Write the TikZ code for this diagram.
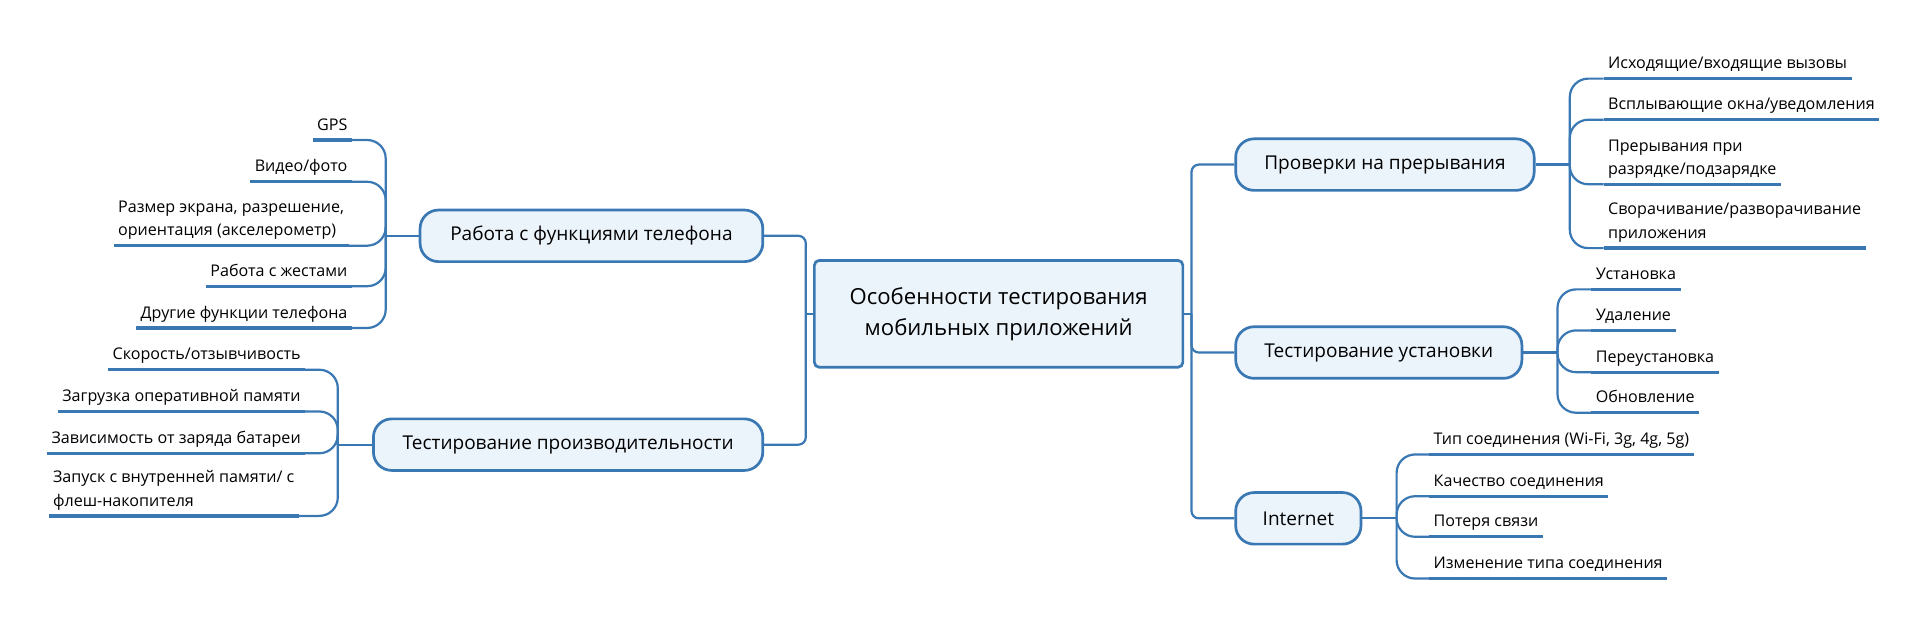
\documentclass[tikz,border=0pt]{standalone}
\usepackage{fontspec}
\setmainfont{Open Sans}
\definecolor{ln}{HTML}{3A78B4}
\definecolor{pf}{HTML}{EBF3FB}
\tikzset{
  pill/.style={draw=ln, line width=2.2pt, fill=pf, rounded corners=15pt, inner sep=0pt, minimum height=42pt, font=\fontsize{15.5}{18}\selectfont},
  cbox/.style={draw=ln, line width=2.2pt, fill=pf, rounded corners=4pt, align=center, font=\fontsize{18}{25}\selectfont},
  leaf/.style={inner xsep=3.5pt, inner ysep=0pt, font=\fontsize{13.1}{19}\selectfont},
  ul/.style={draw=ln, line width=2.7pt},
  conn/.style={draw=ln, line width=1.8pt, rounded corners=15pt},
  trunk/.style={draw=ln, line width=1.8pt, rounded corners=6pt},
}
\newcommand{\ulL}[1]{\draw[ul] ([yshift=-8pt]#1.base west) -- ([yshift=-8pt]#1.base east);}
\begin{document}
\begin{tikzpicture}[x=1pt,y=-1pt]
\useasboundingbox (0,0) rectangle (1568,510.4);

% central node
\node[cbox, minimum width=300pt, minimum height=87pt] (c) at (813,255.5) {Особенности тестирования\\мобильных приложений};

% main branches
\node[pill, minimum width=279pt] (p1) at (481.5,192) {Работа с функциями телефона};
\node[pill, minimum width=317pt] (p2) at (462.5,362) {Тестирование производительности};
\node[pill, minimum width=243pt] (p3) at (1127.5,134) {Проверки на прерывания};
\node[pill, minimum width=233pt] (p4) at (1122.5,287) {Тестирование установки};
\node[pill, minimum width=102pt] (p5) at (1057,422) {Internet};

\coordinate (jl) at (656,255.5);
\coordinate (jr) at (970,255.5);
\draw[trunk] (c.west) -- (jl);
\draw[trunk] (jl) |- (p1.east);
\draw[trunk] (jl) |- (p2.east);
\draw[trunk] (c.east) -- (jr);
\draw[trunk] (jr) |- (p3.west);
\draw[trunk] (jr) |- (p4.west);
\draw[trunk] (jr) |- (p5.west);

% group 1
\coordinate (g1) at (314,192);
\draw[trunk] (p1.west) -- (g1);
\node[leaf, anchor=base east] (a1) at (286.5,106) {GPS};
\node[leaf, anchor=base east] (a2) at (286.5,140) {Видео/фото};
\node[leaf, anchor=base west, align=left] (a3) at (92.5,192) {Размер экрана, разрешение,\\ориентация (акселерометр)};
\node[leaf, anchor=base east] (a4) at (286.5,225) {Работа с жестами};
\node[leaf, anchor=base east] (a5) at (286.5,259) {Другие функции телефона};
\foreach \n in {a1,a2,a3,a4,a5}{
  \ulL{\n}
  \draw[conn] (g1) |- ([yshift=-8pt]\n.base east);
}

% group 2
\coordinate (g2) at (275,362);
\draw[trunk] (p2.west) -- (g2);
\node[leaf, anchor=base east] (b1) at (248.5,293) {Скорость/отзывчивость};
\node[leaf, anchor=base east] (b2) at (248.5,327) {Загрузка оперативной памяти};
\node[leaf, anchor=base east] (b3) at (248.5,361) {Зависимость от заряда батареи};
\node[leaf, anchor=base west, align=left] (b4) at (39.5,412) {Запуск с внутренней памяти/ с\\флеш-накопителя};
\foreach \n in {b1,b2,b3,b4}{
  \ulL{\n}
  \draw[conn] (g2) |- ([yshift=-8pt]\n.base east);
}

% group 3
\coordinate (g3) at (1278,134);
\draw[trunk] (p3.east) -- (g3);
\node[leaf, anchor=base west] (d1) at (1305.5,56) {Исходящие/входящие вызовы};
\node[leaf, anchor=base west] (d2) at (1305.5,89.5) {Всплывающие окна/уведомления};
\node[leaf, anchor=base west, align=left] (d3) at (1305.5,142) {Прерывания при\\разрядке/подзарядке};
\node[leaf, anchor=base west, align=left] (d4) at (1305.5,194) {Сворачивание/разворачивание\\приложения};
\foreach \n in {d1,d2,d3,d4}{
  \ulL{\n}
  \draw[conn] (g3) |- ([yshift=-8pt]\n.base west);
}

% group 4
\coordinate (g4) at (1268,287);
\draw[trunk] (p4.east) -- (g4);
\node[leaf, anchor=base west] (e1) at (1295.5,227.6) {Установка};
\node[leaf, anchor=base west] (e2) at (1295.5,261) {Удаление};
\node[leaf, anchor=base west] (e3) at (1295.5,295) {Переустановка};
\node[leaf, anchor=base west] (e4) at (1295.5,328) {Обновление};
\foreach \n in {e1,e2,e3,e4}{
  \ulL{\n}
  \draw[conn] (g4) |- ([yshift=-8pt]\n.base west);
}

% group 5
\coordinate (g5) at (1137,422);
\draw[trunk] (p5.east) -- (g5);
\node[leaf, anchor=base west] (f1) at (1163.5,362) {Тип соединения (Wi-Fi, 3g, 4g, 5g)};
\node[leaf, anchor=base west] (f2) at (1163.5,396) {Качество соединения};
\node[leaf, anchor=base west] (f3) at (1163.5,429) {Потеря связи};
\node[leaf, anchor=base west] (f4) at (1163.5,463) {Изменение типа соединения};
\foreach \n in {f1,f2,f3,f4}{
  \ulL{\n}
  \draw[conn] (g5) |- ([yshift=-8pt]\n.base west);
}
\end{tikzpicture}
\end{document}
